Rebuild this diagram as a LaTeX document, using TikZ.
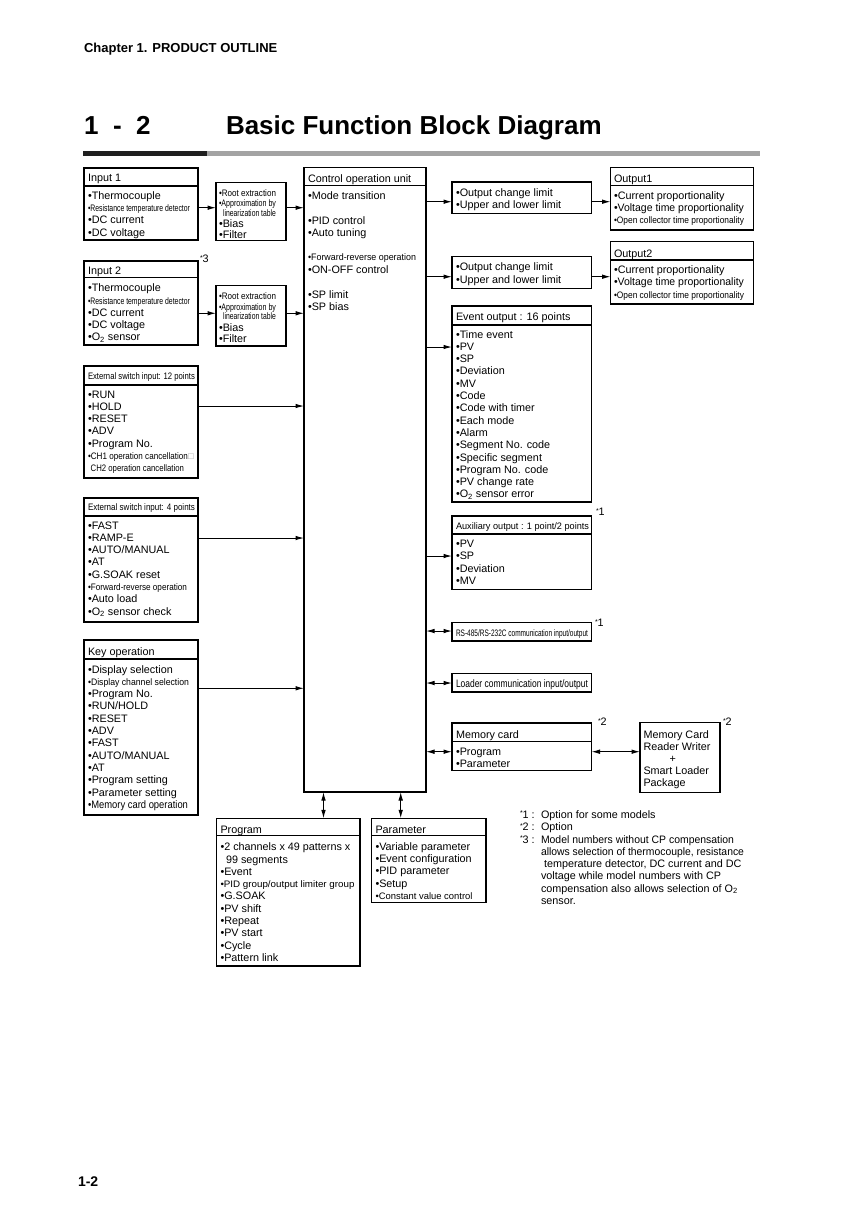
\documentclass[tikz,border=0pt]{standalone}
\usepackage{fontspec}
\setmainfont{Liberation Sans}
\usepackage{graphicx}
\usetikzlibrary{arrows.meta}
\newcommand\fw[2]{\resizebox{#1pt}{\height}{#2}}
\newcommand\smf{\fontsize{9.4}{10}\selectfont}
\newcommand\astk{{\fontsize{7}{7}\selectfont\raisebox{2.5pt}{*}}}
\newcommand\mkbox[5]{\node[bx,minimum width=#4pt,minimum height=#5pt] (#1) at (#2,#3) {};}
\newcommand\hdr[2]{\draw[bline] (#1.west |- 0,#2) -- (#1.east |- 0,#2);}
\newcommand\items[4]{\foreach \t [count=\i] in {#4} {\node[tx] (#1-\i) at (#2,{#3+(\i-1)*12.3}) {\t};}}
\begin{document}
\begin{tikzpicture}[x=1pt,y=-1pt,
  bline/.style={line width=1.25pt},
  bx/.style={draw, line width=1.25pt, anchor=north west, inner sep=0pt, outer sep=0pt},
  tx/.style={anchor=base west, inner sep=0pt, outer sep=0pt, font=\fontsize{10.8}{12}\selectfont},
  arr/.style={line width=1pt, -{Latex[length=8.5pt,width=4.6pt]}},
  darr/.style={line width=1pt, {Latex[length=8.5pt,width=4.6pt]}-{Latex[length=8.5pt,width=4.6pt]}},
]
\useasboundingbox (0,0) rectangle (867,1227);
\fill[white] (0,0) rectangle (867,1227);

% header
\node[tx, font=\bfseries\fontsize{13}{14}\selectfont] (chap) at (84,52.7) {Chapter 1. PRODUCT OUTLINE};
\node[tx, font=\bfseries\fontsize{26}{28}\selectfont] (t1) at (84,134.4) {1};
\node[tx, font=\bfseries\fontsize{26}{28}\selectfont] (t2) at (113,134.4) {-};
\node[tx, font=\bfseries\fontsize{26}{28}\selectfont] (t3) at (136,134.4) {2};
\node[tx, font=\bfseries\fontsize{26}{28}\selectfont] (title) at (226,134.4) {Basic Function Block Diagram};
\fill[black!88] (83,150.5) rectangle (207,156);
\fill[black!36] (207,150.5) rectangle (760,156);

% Input 1
\mkbox{in1}{84}{168}{114}{72}
\hdr{in1}{186}
\node[tx] (in1t) at (88,181.5) {Input 1};
\items{in1}{88}{199.3}{•Thermocouple, {\smf\fw{102}{•Resistance temperature detector}}, •DC current, •DC voltage}

% processing 1
\mkbox{pr1}{216}{182.5}{70}{58}
\node[tx] (pr1-1) at (219,196.5) {\smf\fw{57}{•Root extraction}};
\node[tx] (pr1-2) at (219,206.8) {\smf\fw{57}{•Approximation by}};
\node[tx] (pr1-3) at (223,216.8) {\smf\fw{53}{linearization table}};
\node[tx] (pr1-4) at (219,227.2) {•Bias};
\node[tx] (pr1-5) at (219,238) {•Filter};

% Input 2
\mkbox{in2}{84}{261}{114}{84}
\hdr{in2}{277.3}
\node[tx] (in2t) at (88,274) {Input 2};
\items{in2}{88}{291.7}{•Thermocouple, {\smf\fw{102}{•Resistance temperature detector}}, •DC current, •DC voltage, •O\textsubscript{2} sensor}
\node[tx] (n3) at (200,262.5) {\astk3};

% processing 2
\mkbox{pr2}{216}{285.5}{70}{60.5}
\node[tx] (pr2-1) at (219,299.7) {\smf\fw{57}{•Root extraction}};
\node[tx] (pr2-2) at (219,310) {\smf\fw{57}{•Approximation by}};
\node[tx] (pr2-3) at (223,319.7) {\smf\fw{53}{linearization table}};
\node[tx] (pr2-4) at (219,331.7) {•Bias};
\node[tx] (pr2-5) at (219,342.2) {•Filter};

% Control operation unit
\mkbox{ctl}{304}{167.5}{122}{624.5}
\hdr{ctl}{185.5}
\node[tx] (ctlt) at (308,182.3) {Control operation unit};
\node[tx] (ctl-1) at (308,199.3) {•Mode transition};
\node[tx] (ctl-2) at (308,224.7) {•PID control};
\node[tx] (ctl-3) at (308,236.3) {•Auto tuning};
\node[tx] (ctl-4) at (308,260.7) {\smf\fw{108}{•Forward-reverse operation}};
\node[tx] (ctl-5) at (308,273) {•ON-OFF control};
\node[tx] (ctl-6) at (308,298.3) {•SP limit};
\node[tx] (ctl-7) at (308,310) {•SP bias};

% External switch input 12
\mkbox{es12}{84}{366}{114}{112}
\hdr{es12}{385}
\node[tx] (es12t) at (88,379.3) {\smf\fw{107}{External switch input: 12 points}};
\items{es12}{88}{398}{•RUN, •HOLD, •RESET, •ADV, •Program No., {\smf\fw{100}{•CH1 operation cancellation}{\color{black!35}□}}, {\smf\fw{96}{\phantom{•}CH2 operation cancellation}}}

% External switch input 4
\mkbox{es4}{84}{498}{114}{124}
\hdr{es4}{516}
\node[tx] (es4t) at (88,510.5) {\smf\fw{107}{External switch input: 4 points}};
\items{es4}{88}{529}{•FAST, •RAMP-E, •AUTO/MANUAL, •AT, •G.SOAK reset, {\smf\fw{99}{•Forward-reverse operation}}, •Auto load, •O\textsubscript{2} sensor check}

% Key operation
\mkbox{key}{84}{640}{114}{175}
\hdr{key}{659}
\node[tx] (keyt) at (88,655) {Key operation};
\items{key}{88}{673}{•Display selection, {\smf\fw{101}{•Display channel selection}}, •Program No., •RUN/HOLD, •RESET, •ADV, •FAST, •AUTO/MANUAL, •AT, •Program setting, •Parameter setting, {\fw{100}{•Memory card operation}}}

% Limit boxes and outputs
\mkbox{lim1}{452}{182}{139.5}{31.5}
\items{lim1}{456}{196.5}{•Output change limit, •Upper and lower limit}
\mkbox{out1}{610.5}{167.5}{143}{62.5}
\hdr{out1}{185.5}
\node[tx] (out1t) at (614,182.5) {Output1};
\items{out1}{614}{199.2}{•Current proportionality, {\fw{130}{•Voltage time proportionality}}, {\smf\fw{130}{•Open collector time proportionality}}}

\mkbox{lim2}{452}{256.5}{139.5}{32}
\items{lim2}{456}{270.7}{•Output change limit, •Upper and lower limit}
\mkbox{out2}{610.5}{241.5}{143}{62.5}
\hdr{out2}{260}
\node[tx] (out2t) at (614,257.5) {Output2};
\items{out2}{614}{273.5}{•Current proportionality, {\fw{130}{•Voltage time proportionality}}, {\smf\fw{130}{•Open collector time proportionality}}}

% Event output
\mkbox{ev}{452}{306}{139.5}{196}
\hdr{ev}{325}
\node[tx] (evt) at (456,320.5) {Event output : 16 points};
\items{ev}{456}{338}{•Time event, •PV, •SP, •Deviation, •MV, •Code, •Code with timer, •Each mode, •Alarm, •Segment No. code, •Specific segment, •Program No. code, •PV change rate, •O\textsubscript{2} sensor error}
\node[tx] (n1a) at (596,515.5) {\astk1};

% Auxiliary output
\mkbox{aux}{452}{516}{139.5}{73.5}
\hdr{aux}{534}
\node[tx] (auxt) at (456,529.5) {\smf\fw{133}{Auxiliary output : 1 point/2 points}};
\items{aux}{456}{547.5}{•PV, •SP, •Deviation, •MV}

% RS-485
\node[tx] (n1b) at (595,626.5) {\astk1};
\mkbox{rs}{452}{622.5}{139.5}{18.5}
\node[tx] (rst) at (456,636) {\smf\fw{132}{RS-485/RS-232C communication input/output}};

% Loader
\mkbox{ld}{452}{673.5}{139.5}{18.5}
\node[tx] (ldt) at (456,687) {\fw{132}{Loader communication input/output}};

% Memory card
\mkbox{mc}{452}{723}{139.5}{47.5}
\hdr{mc}{741.5}
\node[tx] (mct) at (456,738) {Memory card};
\items{mc}{456}{755.6}{•Program, •Parameter}
\node[tx] (n2a) at (598,725.5) {\astk2};

\mkbox{rw}{640}{722.5}{80}{70}
\node[tx] (rw-1) at (643.5,738) {Memory Card};
\node[tx] (rw-2) at (643.5,750.5) {Reader Writer};
\node[tx] (rw-3) at (669.5,762.5) {+};
\node[tx] (rw-4) at (643.5,774.7) {Smart Loader};
\node[tx] (rw-5) at (643.5,786.8) {Package};
\node[tx] (n2b) at (723,725.5) {\astk2};

% Program
\mkbox{prog}{216.7}{818.3}{143.3}{147.7}
\hdr{prog}{835.7}
\node[tx] (progt) at (220.5,833) {Program};
\items{prog}{220.5}{850.7}{•2 channels x 49 patterns x, {\phantom{•}\,99 segments}, •Event, {\smf\fw{134}{•PID group/output limiter group}}, •G.SOAK, •PV shift, •Repeat, •PV start, •Cycle, •Pattern link}

% Parameter
\mkbox{par}{371.7}{818.3}{114.3}{84.4}
\hdr{par}{835.7}
\node[tx] (part) at (375.5,833) {Parameter};
\items{par}{375.5}{850.2}{•Variable parameter, •Event configuration, •PID parameter, •Setup, {\smf\fw{97}{•Constant value control}}}

% Footnotes
\node[tx] (fn1) at (520,818) {\makebox[21pt][l]{\astk1 :}Option for some models};
\node[tx] (fn2) at (520,830.5) {\makebox[21pt][l]{\astk2 :}Option};
\node[tx] (fn3) at (520,843) {\makebox[21pt][l]{\astk3 :}\fw{193}{Model numbers without CP compensation}};
\node[tx] (fn4) at (541,855.3) {\fw{203}{allows selection of thermocouple, resistance}};
\node[tx] (fn5) at (544,867.6) {temperature detector, DC current and DC};
\node[tx] (fn6) at (541,879.9) {voltage while model numbers with CP};
\node[tx] (fn7) at (541,892.2) {compensation also allows selection of O\textsubscript{2}};
\node[tx] (fn8) at (541,904.5) {sensor.};

% Footer
\node[tx, font=\bfseries\fontsize{14}{15}\selectfont] (foot) at (78,1186) {1-2};

% Connectors
\draw[arr] (in1.east |- 0,207.7) -- (pr1.west |- 0,207.7);
\draw[arr] (pr1.east |- 0,207.7) -- (ctl.west |- 0,207.7);
\draw[arr] (in2.east |- 0,313.3) -- (pr2.west |- 0,313.3);
\draw[arr] (pr2.east |- 0,313.3) -- (ctl.west |- 0,313.3);
\draw[arr] (es12.east |- 0,406) -- (ctl.west |- 0,406);
\draw[arr] (es4.east |- 0,538) -- (ctl.west |- 0,538);
\draw[arr] (key.east |- 0,688.3) -- (ctl.west |- 0,688.3);
\draw[arr] (ctl.east |- 0,201.7) -- (lim1.west |- 0,201.7);
\draw[arr] (lim1.east |- 0,201.7) -- (out1.west |- 0,201.7);
\draw[arr] (ctl.east |- 0,276.7) -- (lim2.west |- 0,276.7);
\draw[arr] (lim2.east |- 0,276.7) -- (out2.west |- 0,276.7);
\draw[arr] (ctl.east |- 0,347) -- (ev.west |- 0,347);
\draw[arr] (ctl.east |- 0,556) -- (aux.west |- 0,556);
\draw[darr] (ctl.east |- 0,631) -- (rs.west |- 0,631);
\draw[darr] (ctl.east |- 0,683) -- (ld.west |- 0,683);
\draw[darr] (ctl.east |- 0,751.7) -- (mc.west |- 0,751.7);
\draw[darr] (mc.east |- 0,751.7) -- (rw.west |- 0,751.7);
\draw[darr] (ctl.south -| 323.5,0) -- (prog.north -| 323.5,0);
\draw[darr] (ctl.south -| 400.7,0) -- (par.north -| 400.7,0);
\end{tikzpicture}
\end{document}
